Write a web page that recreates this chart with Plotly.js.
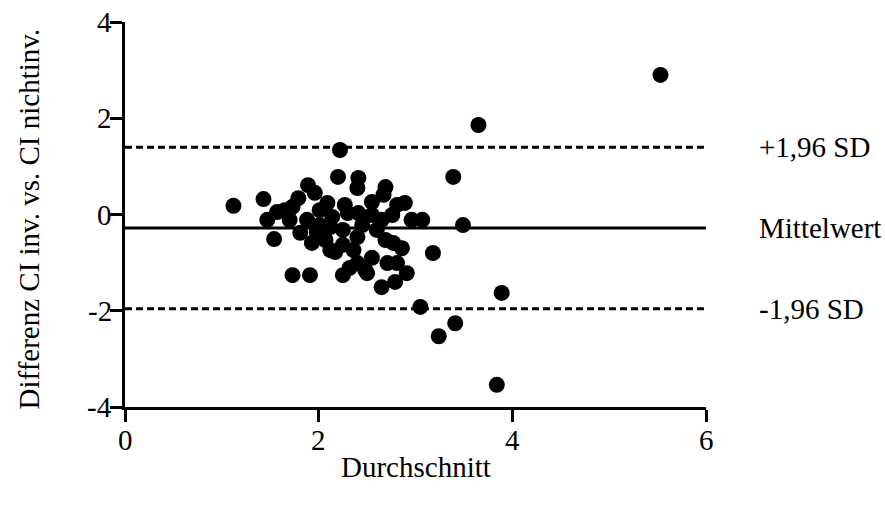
<!DOCTYPE html>
<html>
<head>
<meta charset="utf-8">
<script src="https://cdn.plot.ly/plotly-3.0.1.min.js"></script>
<style>html,body{margin:0;padding:0;background:#fff;}#chart{width:885px;height:509px;}</style>
</head>
<body>
<div id="chart"></div>
<script>
// Mean of the two methods (x) and difference (y)
const durchschnitt = [1.12,1.43,1.47,1.57,1.54,1.73,1.70,1.89,1.96,1.81,1.88,2.01,2.09,1.98,2.20,2.41,2.40,2.30,2.41,2.12,2.25,2.36,2.25,2.32,2.48,2.12,2.25,2.40,2.22,2.69,2.67,2.55,2.81,2.89,2.55,2.65,2.96,3.07,3.49,2.14,2.69,2.77,2.86,2.17,2.40,2.55,2.71,2.81,2.91,2.65,2.79,2.50,1.73,1.91,3.65,3.39,3.18,3.89,3.05,3.41,3.24,3.84,5.53,1.79,1.93,2.07,2.27,2.45,2.60,2.76,2.01,1.65];
const differenz = [0.18,0.32,-0.11,0.05,-0.51,0.16,-0.11,0.61,0.45,-0.38,-0.11,0.09,0.24,-0.36,0.78,0.76,0.55,0.03,0.03,-0.74,-0.63,-0.74,-1.26,-1.11,-1.15,-0.26,-0.32,-0.47,1.34,0.57,0.41,0.26,0.20,0.24,-0.01,-0.11,-0.11,-0.11,-0.22,-0.05,-0.53,-0.59,-0.70,-0.78,-1.01,-0.90,-1.01,-1.01,-1.22,-1.51,-1.40,-1.22,-1.26,-1.26,1.86,0.78,-0.80,-1.63,-1.92,-2.26,-2.53,-3.54,2.90,0.34,-0.59,-0.53,0.20,-0.22,-0.32,-0.01,-0.22,0.09];

// Limits of agreement
const limitValues = [1.40, -0.28, -1.96];
const limitLabels = ['+1,96 SD', 'Mittelwert', '-1,96 SD'];
const limitDash = ['dash', 'solid', 'dash'];
const xRange = [0, 6];

const xTicks = [0, 2, 4, 6];
const yTicks = [-4, -2, 0, 2, 4];

const xTitle = 'Durchschnitt';
const yTitle = 'Differenz CI inv. vs. CI nichtinv.';

const serif = 'Liberation Serif, Times New Roman, serif';
const fs = 29;
const tfont = {family: serif, size: fs, color: '#000'};

const traces = [];
limitValues.forEach((v, i) => {
  traces.push({
    x: xRange, y: [v, v], mode: 'lines', type: 'scatter',
    line: {color: '#000', width: 3, dash: limitDash[i] === 'dash' ? '7px,4px' : 'solid'},
    hoverinfo: 'skip', showlegend: false, cliponaxis: false
  });
});
traces.push({
  x: durchschnitt, y: differenz, mode: 'markers', type: 'scatter',
  marker: {color: '#000', size: 16, line: {width: 0}},
  showlegend: false, cliponaxis: false
});

const annotations = limitValues.map((v, i) => ({
  xref: 'paper', yref: 'y', x: 1.087, y: v, xanchor: 'left', yanchor: 'middle',
  text: limitLabels[i], showarrow: false, font: tfont
}));
// x tick labels
xTicks.forEach(v => annotations.push({
  xref: 'x', yref: 'paper', x: v, y: 0, xanchor: 'center', yanchor: 'middle', yshift: -33,
  text: String(v), showarrow: false, font: tfont
}));
// y tick labels
yTicks.forEach(v => annotations.push({
  xref: 'paper', yref: 'y', x: 0, y: v, xanchor: 'right', yanchor: 'middle', xshift: -11,
  text: String(v), showarrow: false, font: tfont
}));
// axis titles
annotations.push({
  xref: 'paper', yref: 'paper', x: 0.5, y: 0, xanchor: 'center', yanchor: 'middle', yshift: -60,
  text: xTitle, showarrow: false, font: tfont
});
annotations.push({
  xref: 'paper', yref: 'paper', x: 0, y: 0.5, xanchor: 'center', yanchor: 'middle',
  xshift: -97, yshift: -5, textangle: -90,
  text: yTitle, showarrow: false, font: tfont
});

const layout = {
  width: 885, height: 509,
  margin: {l: 125, r: 179, t: 22, b: 102},
  paper_bgcolor: '#fff', plot_bgcolor: '#fff',
  showlegend: false,
  font: {family: serif, color: '#000', size: fs},
  xaxis: {
    range: [0, 6], tickvals: xTicks, showticklabels: false,
    showgrid: false, zeroline: false, showline: true, linecolor: '#000', linewidth: 3,
    ticks: 'outside', ticklen: 12, tickwidth: 3, tickcolor: '#000'
  },
  yaxis: {
    range: [-4, 4], tickvals: yTicks, showticklabels: false,
    showgrid: false, zeroline: false, showline: true, linecolor: '#000', linewidth: 3,
    ticks: 'outside', ticklen: 12, tickwidth: 3, tickcolor: '#000'
  },
  annotations: annotations
};

Plotly.newPlot('chart', traces, layout, {staticPlot: true, displayModeBar: false});
</script>
</body>
</html>
